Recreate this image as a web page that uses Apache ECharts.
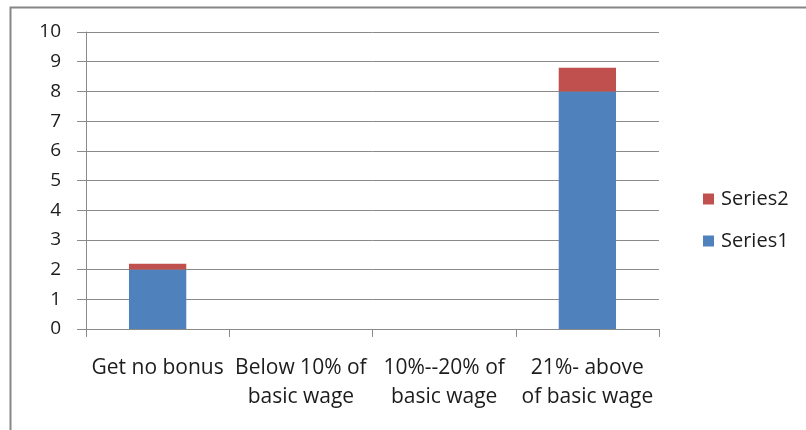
<!DOCTYPE html>
<html>
<head>
<meta charset="utf-8">
<script src="https://cdn.jsdelivr.net/npm/echarts@6/dist/echarts.min.js"></script>
<style>
  html, body { margin: 0; padding: 0; background: #fff; }
  #chart { width: 806px; height: 430px; }
</style>
</head>
<body>
<div id="chart"></div>
<script>
// Bonus categories (line breaks as they wrap under the axis)
const categories = [
  'Get no bonus',
  'Below 10% of\nbasic wage',
  '10%--20% of\nbasic wage',
  '21%- above\nof basic wage'
];
const series1Values = [2, 0, 0, 8];
const series2Values = [0.2, 0, 0, 0.8];
const yTicks = { min: 0, max: 10, interval: 1 };

const FONT = '"Open Sans", "Liberation Sans", sans-serif';
const GRID_COLOR = '#8a8a8a';
const TEXT_COLOR = '#1c1c1c';

const chart = echarts.init(document.getElementById('chart'), null, { renderer: 'canvas' });

chart.setOption({
  animation: false,
  backgroundColor: '#ffffff',
  textStyle: { fontFamily: FONT },
  graphic: [{
    // outer frame around the chart area
    type: 'rect',
    left: 8, top: 5,
    shape: { width: 900, height: 500 },
    style: { fill: 'none', stroke: '#868686', lineWidth: 2 },
    silent: true
  }],
  grid: { left: 86, right: 147, top: 32, bottom: 101 },
  legend: {
    orient: 'vertical',
    left: 698,
    top: 184,
    itemWidth: 11,
    itemHeight: 11,
    itemGap: 22,
    icon: 'rect',
    data: ['Series2', 'Series1'],
    textStyle: { fontFamily: FONT, fontSize: 20, color: TEXT_COLOR, padding: [0, 0, 0, 2] }
  },
  xAxis: {
    type: 'category',
    data: categories,
    boundaryGap: true,
    axisLine: { show: true, lineStyle: { color: GRID_COLOR, width: 1 } },
    axisTick: { show: true, length: 8, alignWithLabel: false, lineStyle: { color: GRID_COLOR } },
    axisLabel: {
      interval: 0,
      margin: 25,
      fontFamily: FONT,
      fontSize: 21,
      lineHeight: 29,
      color: TEXT_COLOR
    }
  },
  yAxis: {
    type: 'value',
    min: yTicks.min,
    max: yTicks.max,
    interval: yTicks.interval,
    axisLine: { show: true, lineStyle: { color: GRID_COLOR, width: 1 } },
    axisTick: { show: true, length: 9, lineStyle: { color: GRID_COLOR } },
    splitLine: { show: true, lineStyle: { color: GRID_COLOR, width: 1 } },
    axisLabel: {
      margin: 25,
      fontFamily: FONT,
      fontSize: 19,
      color: TEXT_COLOR
    }
  },
  series: [
    {
      name: 'Series1',
      type: 'bar',
      stack: 'total',
      data: series1Values,
      barCategoryGap: '60%',
      itemStyle: { color: '#4F81BD' }
    },
    {
      name: 'Series2',
      type: 'bar',
      stack: 'total',
      data: series2Values,
      barCategoryGap: '60%',
      itemStyle: { color: '#C0504D' }
    }
  ]
});
</script>
</body>
</html>
